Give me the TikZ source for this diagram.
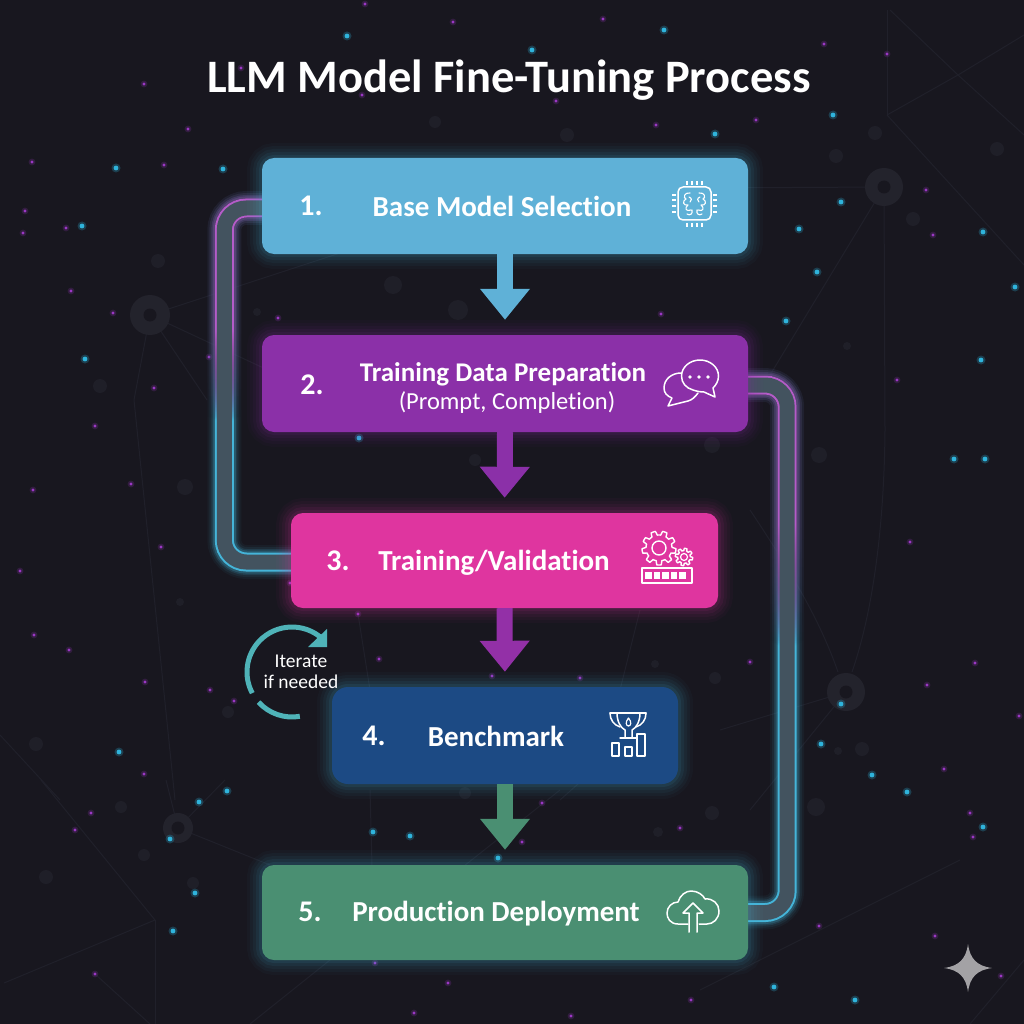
\documentclass[tikz,border=0pt]{standalone}
\usepackage{fontspec}
\setmainfont[Ligatures=NoCommon]{Carlito}
\usetikzlibrary{arrows.meta,fadings,backgrounds}

\definecolor{nightbg}{HTML}{18171F}
\definecolor{faintline}{HTML}{20202A}
\definecolor{fainthub}{HTML}{1F1F28}
\definecolor{hubring}{HTML}{23232C}
\definecolor{stardot}{HTML}{2FB4DC}
\definecolor{violetdot}{HTML}{9A38C4}
\definecolor{trackcore}{HTML}{43535F}
\definecolor{trackcyan}{HTML}{45B4D8}
\definecolor{trackviolet}{HTML}{B45CC8}
\definecolor{basecol}{HTML}{5FB1D7}
\definecolor{datacol}{HTML}{8B30A8}
\definecolor{traincol}{HTML}{DF359F}
\definecolor{benchcol}{HTML}{1C4A84}
\definecolor{deploycol}{HTML}{4A8F72}
\definecolor{loopcol}{HTML}{4FB3B8}

\pgfdeclareverticalshading{trackshade}{100bp}{color(0bp)=(pgftransparent!100); color(40bp)=(pgftransparent!100); color(60bp)=(pgftransparent!0); color(100bp)=(pgftransparent!0)}
\pgfdeclarefading{trackfade}{\pgfuseshading{trackshade}}

\tikzset{
  halo/.style={
    preaction={draw=#1,line width=30pt,draw opacity=.03},
    preaction={draw=#1,line width=24pt,draw opacity=.04},
    preaction={draw=#1,line width=18pt,draw opacity=.05},
    preaction={draw=#1,line width=12pt,draw opacity=.07},
    preaction={draw=#1,line width=6pt,draw opacity=.09}},
  stepbox/.style={rounded corners=12pt,minimum height=96pt,inner sep=0pt},
  stepnum/.style={text=white,font=\fontsize{30}{32}\selectfont\bfseries},
  steplabel/.style={text=white,font=\fontsize{29}{32}\selectfont\bfseries},
  downarrow/.style={line width=16pt,-{Triangle[length=31pt,width=48pt]},shorten >=15pt},
  iconline/.style={draw=white,line width=1.5pt,line join=round,line cap=round,fill=none},
}

% glowing band: path, y of the colour change, stretch of the change
\newcommand{\glowtrack}[3]{
  \foreach \wd/\op in {34/.05,30/.08,26/.14,23/.22}{
    \draw[trackcyan,line width=\wd pt,draw opacity=\op,rounded corners=22pt] #1;
  }
  \draw[trackcyan,line width=19pt,rounded corners=22pt] #1;
  \foreach \wd/\op in {34/.05,30/.08,26/.14,23/.22,19/1}{
    \draw[nightbg,line width=\wd pt,draw opacity=\op,rounded corners=22pt,path fading=trackfade,fit fading=false,
      fading transform={shift={(512,#2)},xscale=10,yscale=#3}] #1;
    \draw[trackviolet,line width=\wd pt,draw opacity=\op,rounded corners=22pt,path fading=trackfade,fit fading=false,
      fading transform={shift={(512,#2)},xscale=10,yscale=#3}] #1;
  }
  \draw[trackcore,line width=15pt,rounded corners=22pt] #1;
}
\newcommand{\geartool}[5]{
  \draw[iconline,line width=1.4pt] plot[samples=145,domain=0:360] ({#1+(#3+#4*max(-1,min(1,3*sin(#5*\x))))*cos(\x)},{#2+(#3+#4*max(-1,min(1,3*sin(#5*\x))))*sin(\x)}) -- cycle;
}

\begin{document}
\begin{tikzpicture}[x=1pt,y=-1pt]
  \useasboundingbox (0,0) rectangle (1024,1024);

  \begin{pgfonlayer}{background}
    \fill[nightbg] (0,0) rectangle (1024,1024);

    % faint network
    \foreach \ax/\ay/\bx/\by in {150/315/380/240,150/315/300/385,150/315/134/400,150/315/207/400,134/400/175/800,
      884/187/700/188,884/187/770/375,884/187/885/430,887/10/887/115,887/115/958/75,958/75/1024/35,887/115/1024/265,
      890/10/958/75,958/75/1024/135,846/692/720/730,846/692/750/810,178/828/166/780,178/828/270/865,178/828/225/780,
      155/920/4/983,155/920/155/1024,41/780/155/920,95/974/150/1024,0/735/60/800,250/1024/430/880,970/1024/1024/960,
      560/800/650/720,620/690/640/610,370/690/358/614,370/790/372/865,440/885/560/790,700/990/960/860}{
      \draw[faintline,line width=1pt] (\ax,\ay) -- (\bx,\by);
    }
    \draw[faintline,line width=1pt] (885,430) .. controls (884,540) and (870,620) .. (852,672);
    \draw[faintline,line width=1pt] (838,672) .. controls (820,620) and (790,570) .. (750,510);
    \foreach \hx/\hy/\hr in {150/315/20,884/187/19,846/692/19,178/828/15}{
      \fill[hubring] (\hx,\hy) circle[radius=\hr];
      \fill[nightbg] (\hx,\hy) circle[radius=6.5];
    }
    \foreach \cx/\cy/\cr in {158/261/7,100/386/7,185/487/8,180/602/4,228/712/6,36/744/7,875/133/7,836/156/7,913/219/7,
      997/149/7,847/346/4,819/455/8,862/749/7,816/807/9,838/751/4,121/807/6,144/855/6,46/877/7,193/883/6,393/285/9,
      458/310/10,257/312/4,435/122/6,567/135/7,712/813/7,658/832/5,715/678/6,655/664/4,465/793/6,712/445/8,475/460/6}{
      \fill[fainthub] (\cx,\cy) circle[radius=\cr];
    }

    % stars
    \foreach \sx/\sy in {227/791,199/802,170/839,195/893,173/931,373/832,410/836,498/858,116/168,223/169,82/226,85/359,
      347/36,532/50,664/30,715/134,833/115,841/202,799/229,817/272,786/321,983/232,1015/287,981/360,954/459,985/459,
      841/704,821/744,872/775,907/792,983/827,119/752,774/987,855/1000,359/438}{
      \fill[stardot,opacity=.25] (\sx,\sy) circle[radius=4.5];
      \fill[stardot] (\sx,\sy) circle[radius=2.4];
    }
    \foreach \sx/\sy in {144/84,188/129,32/162,164/165,25/211,66/228,23/233,71/291,113/313,209/357,154/388,241/68,
      91/813,75/830,95/974,542/803,522/842,375/963,448/983,414/1013,571/1016,365/4,453/22,603/19,362/95,556/101,
      656/125,756/120,824/44,887/54,926/190,933/235,897/380,910/542,975/663,927/685,1019/716,944/769,970/813,973/837,
      750/662,95/426,33/490,131/484,161/547,20/571,34/635,69/650,145/682,210/690,234/701,144/774,819/926,691/1000,
      935/936,1001/976,379/659,492/676,580/678,680/828,358/614,278/318,290/583,661/314}{
      \fill[violetdot,opacity=.2] (\sx,\sy) circle[radius=3.4];
      \fill[violetdot] (\sx,\sy) circle[radius=1.7];
    }
  \end{pgfonlayer}

  % the five steps
  \node[stepbox,fill=basecol,minimum width=486pt,halo=trackcyan] (base) at (505,206) {};
  \node[stepbox,fill=datacol,minimum width=486pt,minimum height=97pt,halo=datacol] (data) at (505,383.5) {};
  \node[stepbox,fill=traincol,minimum width=427pt,minimum height=95pt,halo=traincol] (train) at (504.5,560.5) {};
  \node[stepbox,fill=benchcol,minimum width=346pt,minimum height=97pt,rounded corners=16pt,halo=trackcyan] (bench) at (505,735.5) {};
  \node[stepbox,fill=deploycol,minimum width=486pt,minimum height=95pt,halo=trackcyan] (deploy) at (505,912.5) {};

  \node[text=white,font=\fontsize{46.5}{50}\selectfont\bfseries] (title) at (509,80) {LLM Model Fine-Tuning Process};

  \node[stepnum] (num1) at (311,206) {1.};
  \node[steplabel] (lab1) at (502,206) {Base Model Selection};
  \node[stepnum] (num2) at (312,385) {2.};
  \node[steplabel,font=\fontsize{27}{30}\selectfont\bfseries] (lab2) at (503,374) {Training Data Preparation};
  \node[text=white,font=\fontsize{24.5}{28}\selectfont] (sub2) at (507,403) {(Prompt, Completion)};
  \node[stepnum] (num3) at (338,561) {3.};
  \node[steplabel] (lab3) at (494,563) {Training/Validation};
  \node[stepnum] (num4) at (374,736) {4.};
  \node[steplabel] (lab4) at (496,736) {Benchmark};
  \node[stepnum] (num5) at (310,912) {5.};
  \node[steplabel] (lab5) at (496,914) {Production Deployment};

  % side tracks
  \begin{pgfonlayer}{background}
    \glowtrack{([yshift=-2pt]base.west) -- ++(-37.5,0) |- ([yshift=-1.5pt]train.west)}{375}{4.5}
    \glowtrack{([yshift=-1.5pt]data.east) -- ++(39,0) |- (deploy.east)}{585}{6}
  \end{pgfonlayer}

  % down arrows
  \draw[downarrow,basecol] (base.south) -- (data.north);
  \draw[downarrow,datacol] (data.south) -- (train.north);
  \draw[downarrow,datacol!90!traincol] (train.south) -- (bench.north);
  \draw[downarrow,deploycol] (bench.south) -- (deploy.north);

  % iterate loop
  \node[text=white,font=\fontsize{19.5}{20}\selectfont,align=center] (iter) at (301,672) {Iterate\\[1pt]if needed};
  \draw[loopcol,line width=5pt] (292,672) ++(-47:45) arc[start angle=-47,end angle=-208,radius=45];
  \draw[loopcol,line width=5pt] (292,672) ++(-222:45) arc[start angle=-222,end angle=-280,radius=45];
  \fill[loopcol] (327,629) -- (327,647) -- (308,647) -- cycle;

  % chip icon
  \draw[iconline,rounded corners=5pt] (678,187) rectangle (711,220);
  \foreach \p in {687,692,697,702}{
    \draw[iconline,line width=2pt,line cap=butt] (\p,181) -- (\p,185);
    \draw[iconline,line width=2pt,line cap=butt] (\p,223) -- (\p,227);
  }
  \foreach \p in {195,200,206,212}{
    \draw[iconline,line width=2pt,line cap=butt] (672,\p) -- (676,\p);
    \draw[iconline,line width=2pt,line cap=butt] (713,\p) -- (717,\p);
  }
  \draw[iconline,line width=1.1pt] (690,193) .. controls (684,192) and (683,198) .. (686,199) .. controls (682,201) and (683,206) .. (688,205)
    .. controls (684,208) and (686,212) .. (691,210) (689,197) .. controls (692,198) and (692,201) .. (690,202)
    (687,214) .. controls (690,216) and (693,214) .. (692,210);
  \draw[iconline,line width=1.1pt] (699,193) .. controls (705,192) and (706,198) .. (703,199) .. controls (707,201) and (706,206) .. (701,205)
    .. controls (705,208) and (703,212) .. (698,210) (700,197) .. controls (697,198) and (697,201) .. (699,202)
    (702,214) .. controls (699,216) and (696,214) .. (697,210);

  % chat icon
  \draw[iconline] (693,390) .. controls (686,388) and (681.5,383) .. (681.5,376) .. controls (681.5,367) and (690,360) .. (700,360)
    .. controls (710,360) and (718.5,367) .. (718.5,376) .. controls (718.5,381) and (716,385) .. (713,388) -- (715,397) -- (704,392)
    .. controls (700,392) and (696,391) .. (693,390) -- cycle;
  \draw[iconline] (681,373) .. controls (672,373) and (664,379) .. (664,388) .. controls (664,393) and (667,396) .. (672,398)
    -- (668,406) -- (688,401) .. controls (692,400) and (695,397) .. (698,393);
  \foreach \p in {690,699,708}{
    \fill[white] (\p,377) circle[radius=1.8];
  }

  % gears icon
  \geartool{659}{548}{15}{2}{9}
  \draw[iconline,line width=1.4pt] (659,548) circle[radius=7];
  \geartool{684}{557}{7.5}{1.2}{8}
  \draw[iconline,line width=1.2pt] (684,557) circle[radius=3.5];
  \draw[iconline] (642,568) rectangle (692,583);
  \foreach \p in {645,653.5,662,670.5,679}{
    \fill[white] (\p,572) rectangle ++(6.5,7);
  }

  % trophy icon
  \draw[iconline] (610,713) -- (646,713);
  \draw[iconline] (610,713) .. controls (610,720) and (614,725) .. (620,727);
  \draw[iconline] (646,713) .. controls (646,720) and (642,725) .. (636,727);
  \draw[iconline] (617,713) .. controls (617,722) and (621,728) .. (625,730) -- (625,737);
  \draw[iconline] (640,713) .. controls (640,722) and (636,728) .. (632,730) -- (632,737);
  \draw[iconline] (620,738) -- (637,738);
  \draw[iconline,line width=1.2pt] (628.5,718) .. controls (625,722) and (626,726) .. (628.5,726) .. controls (631,726) and (632,722) .. (628.5,718) -- cycle;
  \draw[iconline] (612,743) rectangle (619,756);
  \draw[iconline] (625,747) rectangle (632,756);
  \draw[iconline] (637,734) rectangle (645,756);

  % cloud icon
  \draw[iconline] (688,924) -- (678,924) .. controls (670,924) and (667,918) .. (667,913) .. controls (667,907) and (672,902) .. (678,902)
    .. controls (680,895) and (686,891) .. (691,891) .. controls (698,891) and (703,895) .. (705,899)
    .. controls (713,898) and (719,904) .. (719,911) .. controls (719,919) and (713,924) .. (707,924) -- (699,924);
  \draw[iconline] (689,932) -- (689,913) -- (683,913) -- (693,903) -- (703,913) -- (697,913) -- (697,932);

  % corner sparkle
  \fill[white!60!nightbg] (968,944) .. controls (970,959) and (977,966) .. (992,968) .. controls (977,970) and (970,977) .. (968,992)
    .. controls (966,977) and (959,970) .. (944,968) .. controls (959,966) and (966,959) .. (968,944) -- cycle;
\end{tikzpicture}
\end{document}
